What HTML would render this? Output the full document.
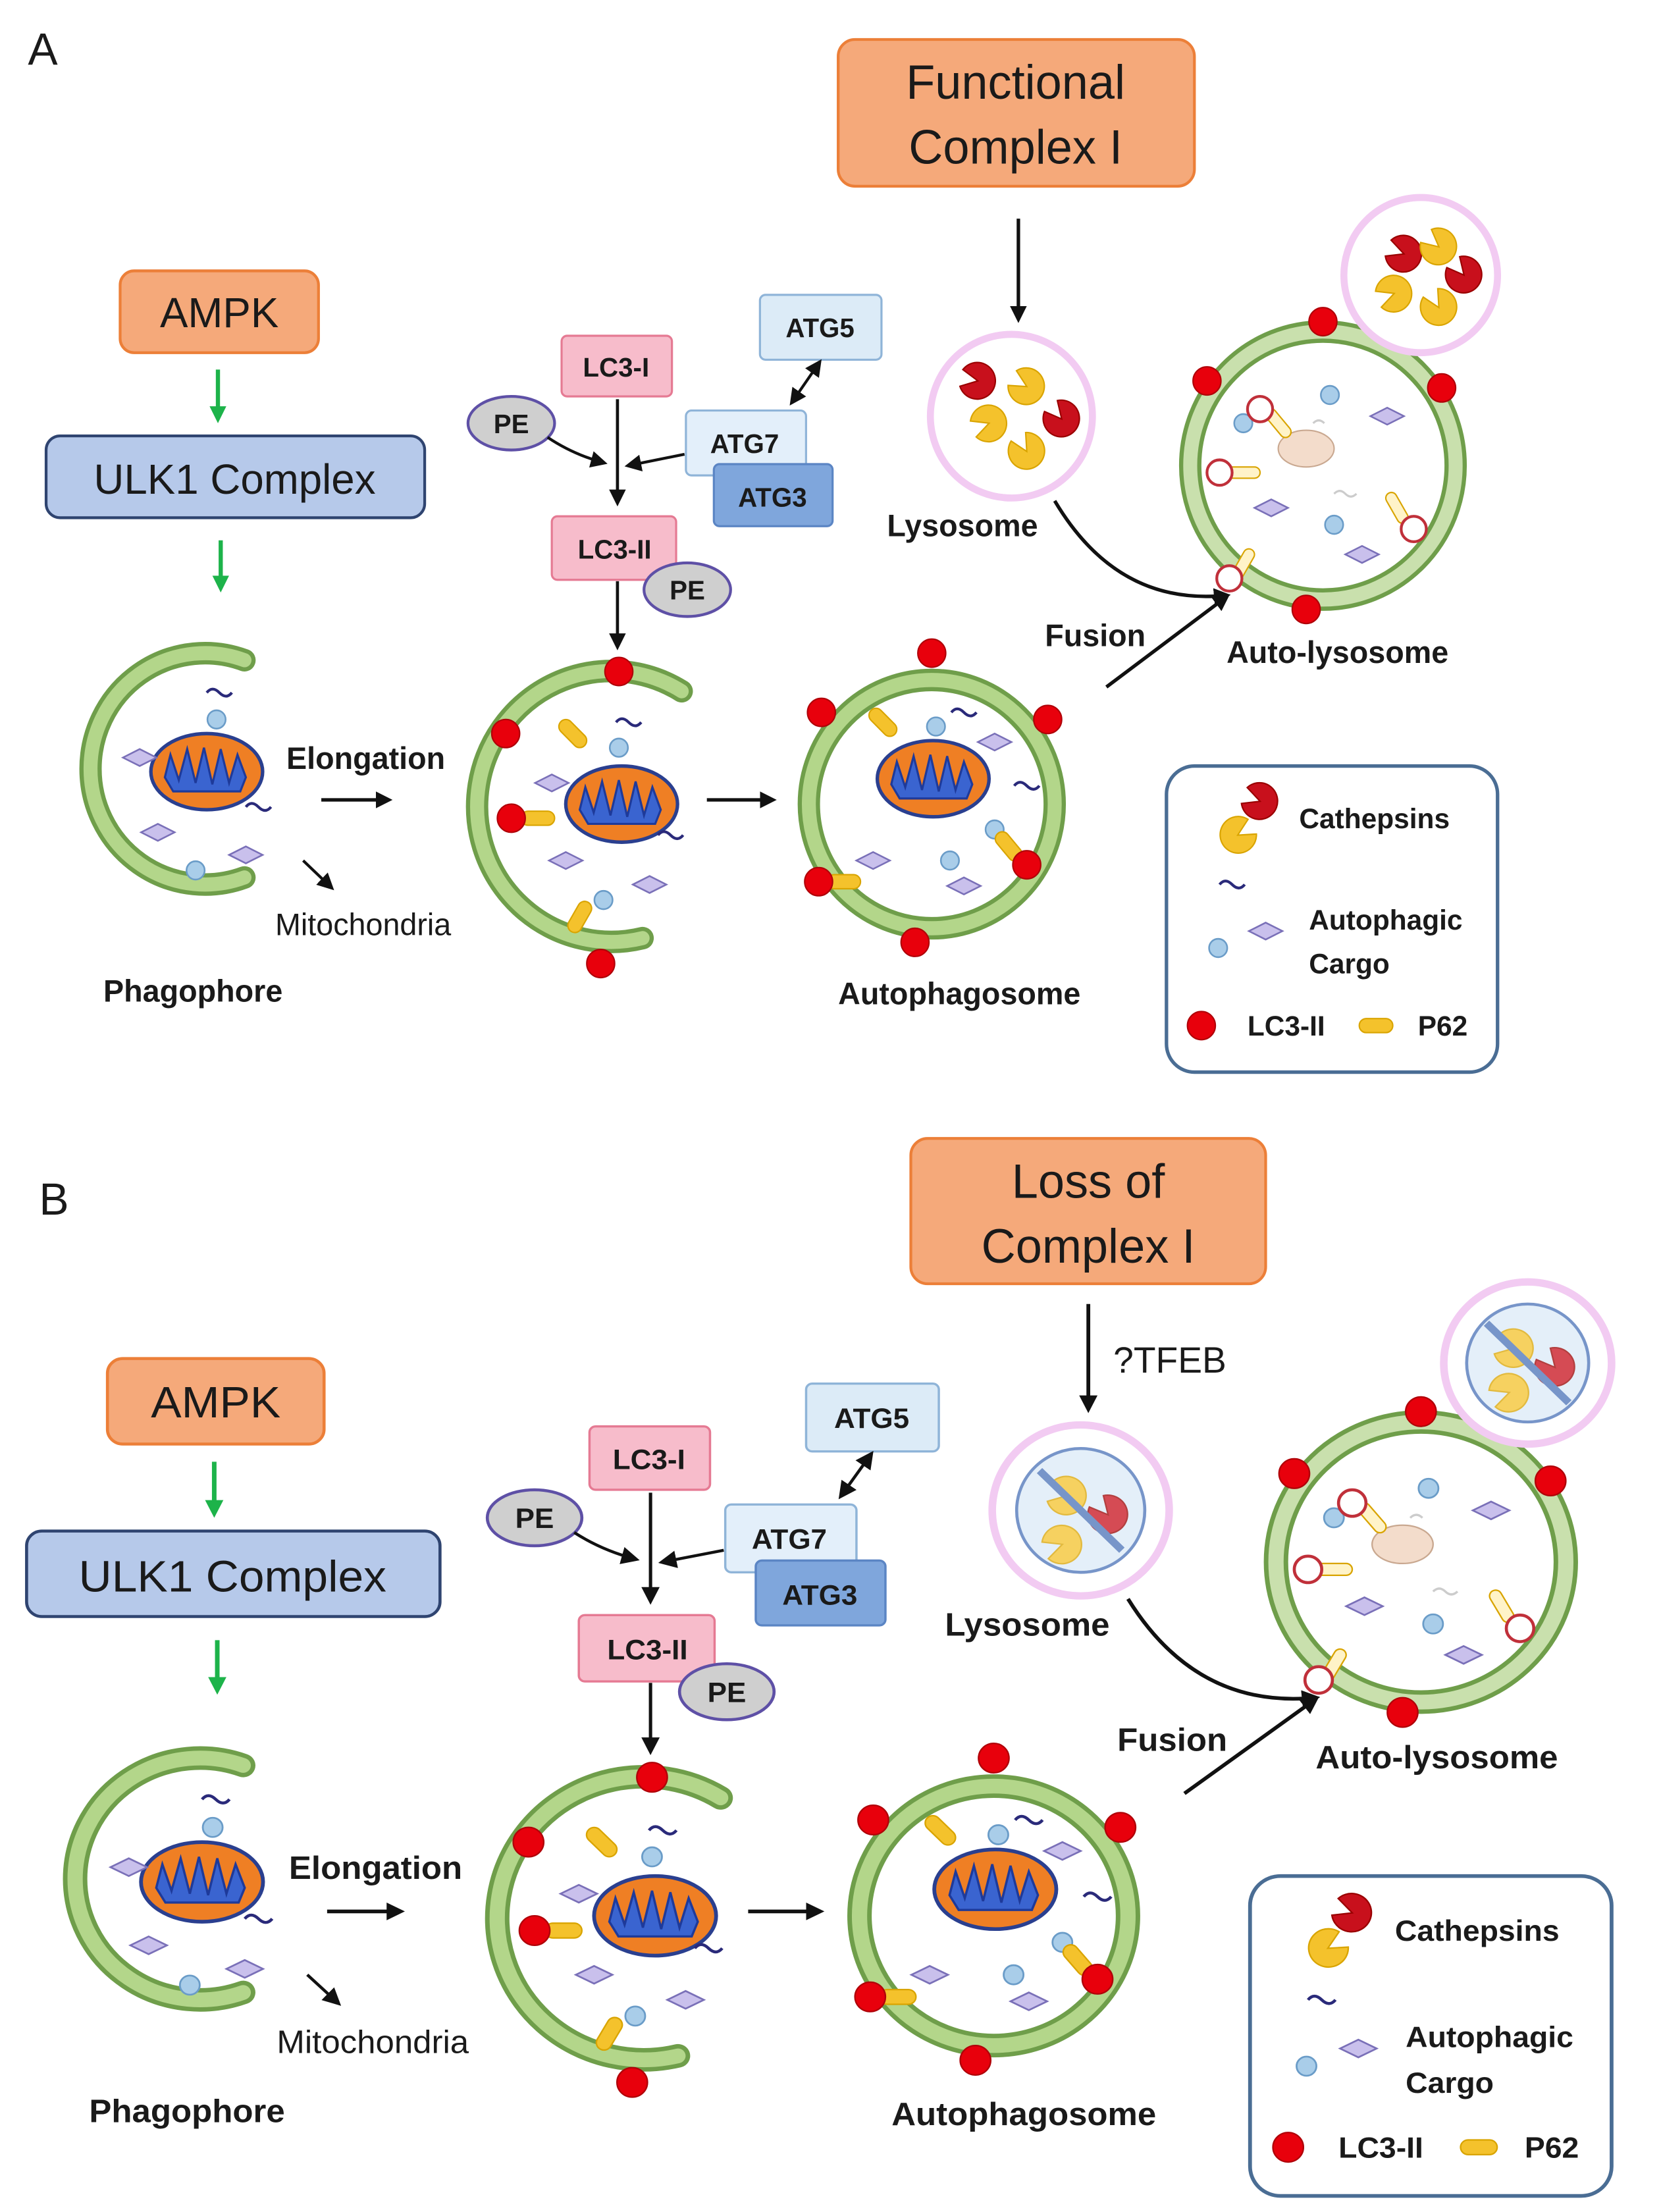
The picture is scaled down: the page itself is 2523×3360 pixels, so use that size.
<!DOCTYPE html>
<html><head><meta charset="utf-8"><style>
html,body{margin:0;padding:0;background:#fff}
svg{display:block}
text{font-family:"Liberation Sans",sans-serif;fill:#1a1a1a}
.b{font-weight:bold}
</style></head><body>
<svg width="2523" height="3360" viewBox="0 0 1189 1568" preserveAspectRatio="none" xmlns="http://www.w3.org/2000/svg">
<defs>
<marker id="ah" markerWidth="12" markerHeight="12" refX="9" refY="6" orient="auto" markerUnits="userSpaceOnUse"><path d="M0,0 L12,6 L0,12 Z" fill="#111"/></marker>
<marker id="ah2" markerWidth="12" markerHeight="12" refX="3" refY="6" orient="auto-start-reverse" markerUnits="userSpaceOnUse"><path d="M0,0 L12,6 L0,12 Z" fill="#111"/></marker>
<marker id="ag" markerWidth="12" markerHeight="12" refX="8" refY="6" orient="auto" markerUnits="userSpaceOnUse"><path d="M0,0 L12,6 L0,12 Z" fill="#1db34a"/></marker>
<g id="mito"><ellipse rx="40" ry="27" fill="#ef7f24" stroke="#2a3f8f" stroke-width="2.5"/>
<path d="M-30,4 L-26,-12 L-20,6 L-14,-16 L-8,8 L-2,-17 L4,9 L10,-16 L16,8 L22,-12 L28,4 L24,14 L-24,14 Z" fill="#3a64d0" stroke="#1e3a9a" stroke-width="1.5"/></g>
<circle id="dot" r="10" fill="#e8000c" stroke="#b00008" stroke-width="1"/>
<circle id="hdot" r="9" fill="#fff" stroke="#c0303a" stroke-width="2"/>
<polygon id="dia" points="-12,0 0,-6 12,0 0,6" fill="#c9c0ec" stroke="#7a70b8" stroke-width="1.2"/>
<circle id="hex" r="6.5" fill="#a9cde9" stroke="#6a9cc8" stroke-width="1.2"/>
<path id="sq" d="M-9,-3 q4,-5 9,0 t9,0" fill="none" stroke="#2a2a7a" stroke-width="2"/>
<path id="pacY" d="M0,0 L12,-6 A13,13 0 1,0 12,6 Z" fill="#f4c22c" stroke="#d9a400" stroke-width="1"/>
<path id="pacR" d="M0,0 L12,-6 A13,13 0 1,0 12,6 Z" fill="#c8101c" stroke="#900" stroke-width="1"/>
<rect id="p62" x="-12" y="-5" width="24" height="10" rx="5" fill="#f4c22c" stroke="#d9a400"/>
<rect id="p62h" x="-12" y="-4" width="24" height="8" rx="4" fill="#fff3c8" stroke="#d9a400"/>

<g id="shapes">
 <rect x="86" y="192" width="142" height="58" rx="10" fill="#f5a97a" stroke="#ec7f38" stroke-width="2"/>
 <line x1="156" y1="262" x2="156" y2="296" stroke="#1db34a" stroke-width="3" marker-end="url(#ag)"/>
 <rect x="33" y="309" width="271" height="58" rx="10" fill="#b6c9ea" stroke="#2f4470" stroke-width="2"/>
 <line x1="158" y1="383" x2="158" y2="416" stroke="#1db34a" stroke-width="3" marker-end="url(#ag)"/>
 <rect x="402" y="238" width="79" height="43" rx="4" fill="#f7bccb" stroke="#e57a93" stroke-width="1.5"/>
 <ellipse cx="366" cy="300" rx="31" ry="19" fill="#cfcfcf" stroke="#5e50a6" stroke-width="2"/>
 <rect x="544" y="209" width="87" height="46" rx="4" fill="#dcebf7" stroke="#8fb4d8" stroke-width="1.5"/>
 <rect x="491" y="291" width="86" height="46" rx="4" fill="#e3effa" stroke="#8fb4d8" stroke-width="1.5"/>
 <rect x="511" y="329" width="85" height="44" rx="4" fill="#7fa6dc" stroke="#5b85c4" stroke-width="1.5"/>
 <line x1="442" y1="283" x2="442" y2="356" stroke="#111" stroke-width="2.2" marker-end="url(#ah)"/>
 <path d="M392,310 Q410,322 432,328" fill="none" stroke="#111" stroke-width="2" marker-end="url(#ah)"/>
 <line x1="490" y1="322" x2="450" y2="330" stroke="#111" stroke-width="2" marker-end="url(#ah)"/>
 <line x1="583" y1="262" x2="567" y2="285" stroke="#111" stroke-width="2" marker-start="url(#ah2)" marker-end="url(#ah)"/>
 <rect x="395" y="366" width="89" height="45" rx="4" fill="#f7bccb" stroke="#e57a93" stroke-width="1.5"/>
 <ellipse cx="492" cy="418" rx="31" ry="19" fill="#cfcfcf" stroke="#5e50a6" stroke-width="2"/>
 <line x1="442" y1="412" x2="442" y2="458" stroke="#111" stroke-width="2.2" marker-end="url(#ah)"/>
 <path d="M175,468 A82,82 0 1,0 175,622" fill="none" stroke="#6f9e4a" stroke-width="16" stroke-linecap="round"/>
 <path d="M175,468 A82,82 0 1,0 175,622" fill="none" stroke="#b3d68a" stroke-width="10" stroke-linecap="round"/>
 <use href="#mito" x="148" y="547"/>
 <use href="#sq" x="157" y="494"/><use href="#hex" x="155" y="510"/><use href="#dia" x="100" y="537"/>
 <use href="#dia" x="113" y="590"/><use href="#dia" x="176" y="606"/><use href="#hex" x="140" y="617"/><use href="#sq" x="185" y="575"/>
 <line x1="230" y1="567" x2="278" y2="567" stroke="#111" stroke-width="2.5" marker-end="url(#ah)"/>
 <line x1="217" y1="610" x2="237" y2="629" stroke="#111" stroke-width="2" marker-end="url(#ah)"/>
 <path d="M488,490 A96,96 0 1,0 460,665" fill="none" stroke="#6f9e4a" stroke-width="16" stroke-linecap="round"/>
 <path d="M488,490 A96,96 0 1,0 460,665" fill="none" stroke="#b3d68a" stroke-width="10" stroke-linecap="round"/>
 <use href="#mito" x="445" y="570"/>
 <use href="#sq" x="450" y="515"/><use href="#hex" x="443" y="530"/><use href="#dia" x="395" y="555"/><use href="#dia" x="405" y="610"/>
 <use href="#dia" x="465" y="627"/><use href="#hex" x="432" y="638"/><use href="#sq" x="480" y="595"/>
 <use href="#p62" transform="translate(410,520) rotate(45)"/><use href="#p62" transform="translate(385,580)"/><use href="#p62" transform="translate(415,650) rotate(-60)"/>
 <use href="#dot" x="443" y="476"/><use href="#dot" x="362" y="520"/><use href="#dot" x="366" y="580"/><use href="#dot" x="430" y="683"/>
 <line x1="506" y1="567" x2="553" y2="567" stroke="#111" stroke-width="2.5" marker-end="url(#ah)"/>
 <circle cx="667" cy="570" r="88" fill="#fff" stroke="#6f9e4a" stroke-width="16"/>
 <circle cx="667" cy="570" r="88" fill="none" stroke="#b3d68a" stroke-width="10"/>
 <use href="#mito" x="668" y="552"/>
 <use href="#sq" x="690" y="508"/><use href="#hex" x="670" y="515"/><use href="#dia" x="712" y="526"/><use href="#dia" x="625" y="610"/>
 <use href="#dia" x="690" y="628"/><use href="#hex" x="680" y="610"/><use href="#sq" x="735" y="560"/><use href="#hex" x="712" y="588"/>
 <use href="#p62" transform="translate(632,512) rotate(45)"/><use href="#p62" transform="translate(604,625)"/><use href="#p62" transform="translate(722,600) rotate(50)"/>
 <use href="#dot" x="667" y="463"/><use href="#dot" x="588" y="505"/><use href="#dot" x="750" y="510"/><use href="#dot" x="586" y="625"/><use href="#dot" x="655" y="668"/><use href="#dot" x="735" y="613"/>
 <circle cx="724" cy="295" r="58" fill="#fff" stroke="#f2cbf2" stroke-width="5"/>
 <line x1="729" y1="155" x2="729" y2="226" stroke="#111" stroke-width="2.5" marker-end="url(#ah)"/>
 <path d="M755,355 Q800,430 878,422" fill="none" stroke="#111" stroke-width="2.5" marker-end="url(#ah)"/>
 <line x1="792" y1="487" x2="878" y2="423" stroke="#111" stroke-width="2.5" marker-end="url(#ah)"/>
 <circle cx="947" cy="330" r="95" fill="#fff" stroke="#6f9e4a" stroke-width="16"/>
 <circle cx="947" cy="330" r="95" fill="none" stroke="#c9e0ad" stroke-width="10"/>
 <ellipse cx="935" cy="318" rx="20" ry="13" fill="#f3dccb" stroke="#c9a890"/>
 <use href="#hex" x="952" y="280"/><use href="#dia" x="993" y="295"/><use href="#dia" x="910" y="360"/><use href="#hex" x="955" y="372"/><use href="#dia" x="975" y="393"/><use href="#hex" x="890" y="300"/>
 <path d="M955,350 q4,-4 8,0 t8,0 M940,300 q4,-4 8,0" fill="none" stroke="#ccc" stroke-width="1.5"/>
 <use href="#p62h" transform="translate(915,300) rotate(50)"/><use href="#hdot" x="902" y="290"/>
 <use href="#p62h" transform="translate(890,335)"/><use href="#hdot" x="873" y="335"/>
 <use href="#p62h" transform="translate(890,400) rotate(-60)"/><use href="#hdot" x="880" y="410"/>
 <use href="#p62h" transform="translate(1000,360) rotate(60)"/><use href="#hdot" x="1012" y="375"/>
 <use href="#dot" x="947" y="228"/><use href="#dot" x="864" y="270"/><use href="#dot" x="1032" y="275"/><use href="#dot" x="935" y="432"/>
 <circle cx="1017" cy="195" r="55" fill="#fff" stroke="#f2cbf2" stroke-width="5"/>
 <rect x="835" y="543" width="237" height="217" rx="20" fill="#fff" stroke="#4a6d94" stroke-width="2.5"/>
 <use href="#pacR" transform="translate(902,568) rotate(200)"/><use href="#pacY" transform="translate(886,592) rotate(-30)"/>
 <use href="#sq" x="882" y="630"/><use href="#dia" x="906" y="660"/><use href="#hex" x="872" y="672"/>
 <use href="#dot" x="860" y="727"/><use href="#p62" x="985" y="727"/>
</g>
<g id="lysoA">
 <use href="#pacR" transform="translate(700,270) rotate(190)"/><use href="#pacY" transform="translate(735,274) rotate(210)"/><use href="#pacR" transform="translate(760,297) rotate(230)"/>
 <use href="#pacY" transform="translate(708,300) rotate(160)"/><use href="#pacY" transform="translate(735,320) rotate(240)"/>
 <use href="#pacR" transform="translate(1005,180) rotate(200)"/><use href="#pacY" transform="translate(1030,175) rotate(220)"/><use href="#pacR" transform="translate(1048,195) rotate(230)"/>
 <use href="#pacY" transform="translate(998,208) rotate(160)"/><use href="#pacY" transform="translate(1030,218) rotate(240)"/>
</g>
</defs>

<text x="20" y="46" font-size="32">A</text>
<rect x="600" y="28" width="255" height="104" rx="12" fill="#f5a97a" stroke="#ec7f38" stroke-width="2"/>
<text x="727" y="70" font-size="34" text-anchor="middle">Functional</text>
<text x="727" y="116" font-size="34" text-anchor="middle">Complex I</text>
<use href="#shapes"/>
<use href="#lysoA"/>
<g>
<text x="157" y="232" font-size="30" text-anchor="middle">AMPK</text>
<text x="168" y="350" font-size="30" text-anchor="middle">ULK1 Complex</text>
<text x="441" y="267" font-size="19" text-anchor="middle" class="b">LC3-I</text>
<text x="366" y="307" font-size="19" text-anchor="middle" class="b">PE</text>
<text x="587" y="239" font-size="19" text-anchor="middle" class="b">ATG5</text>
<text x="533" y="321" font-size="19" text-anchor="middle" class="b">ATG7</text>
<text x="553" y="359" font-size="19" text-anchor="middle" class="b">ATG3</text>
<text x="440" y="396" font-size="19" text-anchor="middle" class="b">LC3-II</text>
<text x="492" y="425" font-size="19" text-anchor="middle" class="b">PE</text>
<text x="205" y="545" font-size="22" class="b">Elongation</text>
<text x="197" y="663" font-size="22">Mitochondria</text>
<text x="74" y="710" font-size="22" class="b">Phagophore</text>
<text x="600" y="712" font-size="22" class="b">Autophagosome</text>
<text x="635" y="380" font-size="22" class="b">Lysosome</text>
<text x="748" y="458" font-size="22" class="b">Fusion</text>
<text x="878" y="470" font-size="22" class="b">Auto-lysosome</text>
<text x="930" y="587" font-size="20" class="b">Cathepsins</text>
<text x="937" y="659" font-size="20" class="b">Autophagic</text>
<text x="937" y="690" font-size="20" class="b">Cargo</text>
<text x="893" y="734" font-size="20" class="b">LC3-II</text>
<text x="1015" y="734" font-size="20" class="b">P62</text>
</g>

<text x="28" y="861" font-size="32">B</text>
<rect x="652" y="807" width="254" height="103" rx="12" fill="#f5a97a" stroke="#ec7f38" stroke-width="2"/>
<text x="779" y="849" font-size="34" text-anchor="middle">Loss of</text>
<text x="779" y="895" font-size="34" text-anchor="middle">Complex I</text>
<text x="797" y="973" font-size="26">?TFEB</text>
<g transform="translate(-17,762.4) scale(1.092,1.045)">
 <use href="#shapes"/>
 <g opacity="0.75">
  <circle cx="724" cy="295" r="42" fill="#dceaf7" stroke="#4a72b8" stroke-width="2"/>
  <use href="#pacY" transform="translate(715,285) rotate(190)"/><use href="#pacR" transform="translate(742,298) rotate(230)"/><use href="#pacY" transform="translate(712,318) rotate(160)"/>
  <line x1="697" y1="268" x2="751" y2="322" stroke="#4a72b8" stroke-width="5"/>
  <circle cx="1017" cy="195" r="40" fill="#dceaf7" stroke="#4a72b8" stroke-width="2"/>
  <use href="#pacY" transform="translate(1008,185) rotate(190)"/><use href="#pacR" transform="translate(1035,198) rotate(230)"/><use href="#pacY" transform="translate(1005,215) rotate(160)"/>
  <line x1="990" y1="168" x2="1044" y2="222" stroke="#4a72b8" stroke-width="5"/>
 </g>
 <text x="157" y="232" font-size="30" text-anchor="middle">AMPK</text>
 <text x="168" y="350" font-size="30" text-anchor="middle">ULK1 Complex</text>
 <text x="441" y="267" font-size="19" text-anchor="middle" class="b">LC3-I</text>
 <text x="366" y="307" font-size="19" text-anchor="middle" class="b">PE</text>
 <text x="587" y="239" font-size="19" text-anchor="middle" class="b">ATG5</text>
 <text x="533" y="321" font-size="19" text-anchor="middle" class="b">ATG7</text>
 <text x="553" y="359" font-size="19" text-anchor="middle" class="b">ATG3</text>
 <text x="440" y="396" font-size="19" text-anchor="middle" class="b">LC3-II</text>
 <text x="492" y="425" font-size="19" text-anchor="middle" class="b">PE</text>
 <text x="205" y="545" font-size="22" class="b">Elongation</text>
 <text x="197" y="663" font-size="22">Mitochondria</text>
 <text x="74" y="710" font-size="22" class="b">Phagophore</text>
 <text x="600" y="712" font-size="22" class="b">Autophagosome</text>
 <text x="635" y="380" font-size="22" class="b">Lysosome</text>
 <text x="748" y="458" font-size="22" class="b">Fusion</text>
 <text x="878" y="470" font-size="22" class="b">Auto-lysosome</text>
 <text x="930" y="587" font-size="20" class="b">Cathepsins</text>
 <text x="937" y="659" font-size="20" class="b">Autophagic</text>
 <text x="937" y="690" font-size="20" class="b">Cargo</text>
 <text x="893" y="734" font-size="20" class="b">LC3-II</text>
 <text x="1015" y="734" font-size="20" class="b">P62</text>
</g>
</svg>
</body></html>
